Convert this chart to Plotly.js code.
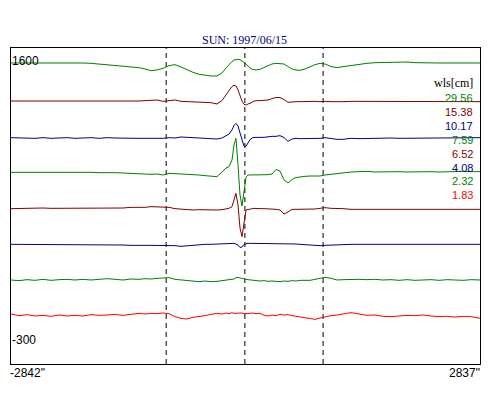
<!DOCTYPE html>
<html>
<head>
<meta charset="utf-8">
<script src="https://cdn.plot.ly/plotly-3.0.1.min.js"></script>
<style>
html,body{margin:0;padding:0;background:#fff;}
#chart{width:500px;height:400px;}
</style>
</head>
<body>
<div id="chart"></div>
<script>
// position along the scan (arcsec)
const xArcsec = [-2842,-2745,-2648,-2551,-2455,-2358,-2261,-2164,-2067,-1970,
  -1873,-1776,-1679,-1583,-1486,-1389,-1292,-1219,-1147,-1074,
  -1001,-929,-856,-783,-711,-638,-565,-493,-420,-348,
  -287,-239,-202,-166,-142,-118,-93,-69,-45,-21,
  4,28,52,88,125,173,222,270,318,367,
  415,464,512,561,609,658,718,779,839,900,
  960,1033,1106,1178,1275,1372,1469,1566,1663,1759,
  1856,1953,2050,2147,2244,2342,2439,2536,2633,2730,2837];

const wls = ["29.56","15.38","10.17","7.59","6.52","4.08","2.32","1.83"];

const s2956 = [1510,1510,1512,1511,1512,1513,1512,1511,1512,1510,
  1508,1504,1502,1498,1494,1488,1482,1474,1464,1468,
  1478,1494,1500,1486,1468,1454,1442,1436,1432,1432,
  1450,1480,1501,1519,1528,1532,1532,1530,1524,1514,
  1504,1492,1480,1471,1468,1472,1483,1495,1504,1508,
  1508,1504,1489,1474,1468,1466,1474,1488,1500,1508,
  1504,1489,1482,1488,1496,1504,1508,1512,1514,1514,
  1516,1516,1512,1510,1510,1510,1510,1511,1510,1510,1510];

const s1538 = [1282,1282,1280,1282,1282,1282,1280,1282,1282,1280,
  1282,1282,1280,1282,1280,1278,1282,1284,1288,1288,
  1280,1286,1288,1280,1278,1276,1274,1276,1272,1264,
  1285,1318,1345,1369,1376,1372,1348,1308,1282,1262,
  1258,1264,1268,1279,1284,1284,1286,1288,1296,1303,
  1303,1291,1274,1278,1278,1278,1280,1278,1280,1278,
  1280,1278,1280,1278,1280,1280,1278,1278,1280,1278,
  1278,1280,1278,1278,1280,1278,1278,1276,1278,1278,1278];

const s1017 = [1062,1060,1062,1058,1062,1058,1060,1062,1058,1060,
  1062,1058,1062,1060,1058,1056,1058,1058,1060,1058,
  1058,1062,1060,1066,1064,1062,1058,1058,1058,1054,
  1060,1072,1084,1108,1135,1147,1132,1090,1042,1012,
  1010,1033,1051,1063,1062,1064,1064,1068,1070,1070,
  1074,1063,1040,1054,1058,1056,1056,1058,1056,1058,
  1062,1056,1052,1052,1058,1056,1058,1058,1058,1060,
  1058,1058,1062,1058,1058,1060,1058,1062,1060,1058,1062];

const s759 = [854,854,856,854,858,854,854,856,854,854,
  854,852,854,852,850,848,844,842,842,844,
  838,848,846,844,846,842,838,834,830,828,
  856,880,888,928,1018,1058,898,718,652,748,
  826,838,838,840,840,838,840,840,844,871,
  862,808,790,811,823,828,830,832,830,832,
  838,842,848,854,856,858,860,856,858,860,
  858,856,858,860,858,856,858,858,860,858,858];

const s652 = [636,638,636,638,640,638,638,636,638,638,
  638,638,638,640,640,644,642,644,648,648,
  644,644,636,632,630,628,630,628,630,628,
  630,634,638,648,691,728,658,520,468,556,
  628,632,632,638,636,636,636,636,634,632,
  628,604,616,632,632,632,634,636,634,638,
  642,638,638,636,632,632,634,632,632,634,
  632,632,634,632,632,634,632,632,634,632,632];

const s408 = [422,422,420,422,422,420,422,418,420,420,
  418,420,418,420,418,416,418,416,416,416,
  416,414,414,410,414,416,418,422,422,424,
  426,428,428,428,428,424,418,403,406,421,
  426,428,428,428,428,426,426,426,426,426,
  428,426,426,426,424,422,420,416,416,414,
  416,418,420,420,422,422,422,420,422,422,
  422,420,422,422,422,420,422,422,420,422,422];

const s232 = [208,204,210,206,212,206,210,212,208,212,
  208,210,216,212,208,214,212,216,214,218,
  220,222,212,208,204,202,198,202,198,200,
  204,206,210,208,214,222,224,220,216,216,
  212,210,208,206,204,202,204,200,202,198,
  198,202,200,204,202,206,204,206,212,218,
  224,218,208,210,212,212,210,212,208,210,
  206,210,206,208,210,206,210,208,206,210,208];

const s183 = [4,-6,0,-8,-4,-10,-2,-8,-4,-8,
  0,-4,-2,2,-4,4,8,4,8,6,
  10,6,-12,-22,-26,-16,-12,-6,2,8,
  4,10,6,12,8,8,12,8,10,6,
  8,10,8,10,6,8,-4,-8,-2,-6,
  2,-2,0,-6,-10,-12,-16,-22,-28,-20,
  -12,-6,-2,4,12,4,-4,-2,-10,-12,
  -8,-4,-6,-2,-8,-12,-10,-14,-10,-12,-22];

const seriesValues = [s2956, s1538, s1017, s759, s652, s408, s232, s183];
const seriesColors = ['#008000','#800000','#000080','#008000','#800000','#000080','#008000','#ff0000'];

// solar limbs and disk centre (arcsec)
const limbs = [-963, -10, 937];

const titleText = "SUN: 1997/06/15";
const legendTitle = "wls[cm]";
const yMaxLabel = "1600";
const yMinLabel = "-300";
const xMinLabel = "-2842\"";
const xMaxLabel = "2837\"";

// ---- layout helpers (pixel geometry of the plot box) ----
const L = 11, R = 480, T = 48, B = 364;
const px = x => (x - L) / (R - L);
const py = y => (B - y) / (B - T);

const traces = seriesValues.map((vals, i) => ({
  x: xArcsec, y: vals, type: 'scatter', mode: 'lines',
  line: {color: seriesColors[i], width: 1},
  name: wls[i], hoverinfo: 'skip'
}));

const annotations = [];
const sans = 'Liberation Sans, Arial, sans-serif';
const serif = 'Liberation Serif, Times New Roman, serif';
annotations.push({xref:'paper', yref:'paper', x: px(244.5), y: py(40), text: titleText,
  showarrow:false, xanchor:'center', yanchor:'middle',
  font:{family: serif, size: 12, color:'#000080'}});
annotations.push({xref:'paper', yref:'paper', x: px(475), y: py(83), text: legendTitle,
  showarrow:false, xanchor:'right', yanchor:'middle',
  font:{family: serif, size: 12, color:'#000000'}});
wls.forEach((w, i) => {
  annotations.push({xref:'paper', yref:'paper', x: px(475), y: py(98 + i * 13.9), text: w,
    showarrow:false, xanchor:'right', yanchor:'middle',
    font:{family: sans, size: 11, color: seriesColors[i]}});
});
annotations.push({xref:'paper', yref:'paper', x: px(10), y: py(61), text: yMaxLabel,
  showarrow:false, xanchor:'left', yanchor:'middle', font:{family: sans, size: 12, color:'#000'}});
annotations.push({xref:'paper', yref:'paper', x: px(10), y: py(340), text: yMinLabel,
  showarrow:false, xanchor:'left', yanchor:'middle', font:{family: sans, size: 12, color:'#000'}});
annotations.push({xref:'paper', yref:'paper', x: px(8), y: py(373), text: xMinLabel,
  showarrow:false, xanchor:'left', yanchor:'middle', font:{family: sans, size: 12, color:'#000'}});
annotations.push({xref:'paper', yref:'paper', x: px(482), y: py(373), text: xMaxLabel,
  showarrow:false, xanchor:'right', yanchor:'middle', font:{family: sans, size: 12, color:'#000'}});

const shapes = limbs.map(v => ({
  type:'line', xref:'x', yref:'paper', x0: v, x1: v, y0: 0, y1: 1,
  line:{color:'#000', width:1, dash:'5px,4px'}, layer:'below'
}));

const layout = {
  width: 500, height: 400,
  margin: {l: L, r: 500 - R, t: T, b: 400 - B, pad: 0},
  paper_bgcolor: '#fff', plot_bgcolor: '#fff',
  showlegend: false,
  xaxis: {range: [-2842, 2837], showgrid:false, zeroline:false, showticklabels:false, ticks:'',
    showline:true, mirror:true, linecolor:'#000', linewidth:1},
  yaxis: {range: [-296, 1600], showgrid:false, zeroline:false, showticklabels:false, ticks:'',
    showline:true, mirror:true, linecolor:'#000', linewidth:1},
  annotations: annotations,
  shapes: shapes
};

Plotly.newPlot('chart', traces, layout, {staticPlot:true, displayModeBar:false});
</script>
</body>
</html>
